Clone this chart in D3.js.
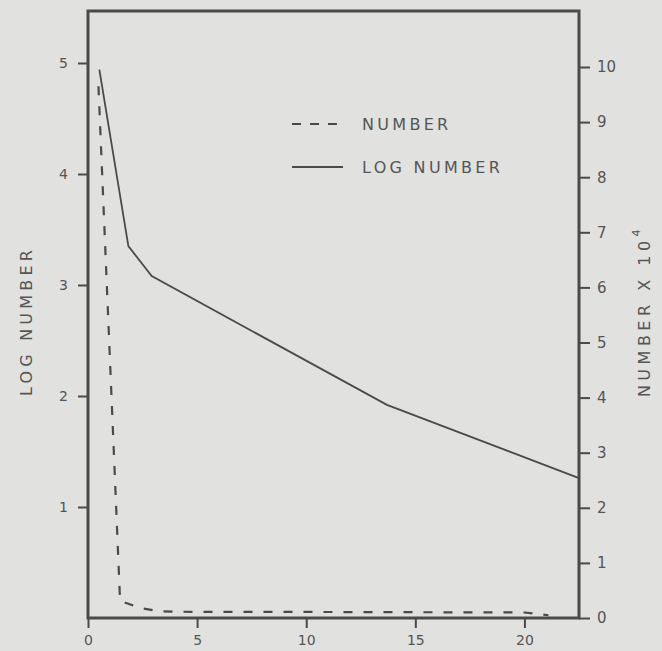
<!DOCTYPE html>
<html>
<head>
<meta charset="utf-8">
<script src="https://cdn.jsdelivr.net/npm/d3@7"></script>
<style>
  html, body { margin: 0; padding: 0; background: #e1e1df; }
  svg { display: block; }
  text { font-family: "DejaVu Sans", "Liberation Sans", sans-serif; fill: #555; }
</style>
</head>
<body>
<svg id="chart" width="662" height="651"></svg>
<script>
// ---- data ----
const logDays   = [0.52, 1.85, 2.92, 13.7, 22.5];
const logValues = [4.94, 3.35, 3.08, 1.92, 1.26];

const numDays   = [0.48, 1.47, 2.4, 3.3, 5, 10, 15, 20, 21.1];
const numValues = [9.65, 0.31, 0.18, 0.12, 0.11, 0.11, 0.105, 0.1, 0.05]; // x 10^4

const xTicks      = [0, 5, 10, 15, 20];
const leftTicks   = [1, 2, 3, 4, 5];
const rightTicks  = [0, 1, 2, 3, 4, 5, 6, 7, 8, 9, 10];
const legendNames = ["NUMBER", "LOG NUMBER"];

// ---- layout ----
const svg = d3.select("#chart");
const L = 88, R = 579, T = 11, B = 618;
const ink = "#4a4a4a";

const x  = d3.scaleLinear().domain([0, 22.5]).range([L, R]);
const yL = d3.scaleLinear().domain([0, 5]).range([B, 63]);
const yR = d3.scaleLinear().domain([0, 10]).range([B, 67]);

// frame
svg.append("rect")
  .attr("x", L).attr("y", T).attr("width", R - L).attr("height", B - T)
  .attr("fill", "none").attr("stroke", ink).attr("stroke-width", 3);

function styleAxis(g, size) {
  g.select(".domain").remove();
  g.selectAll(".tick line").attr("stroke", ink).attr("stroke-width", 2);
  g.selectAll(".tick text").style("font-size", size + "px").attr("fill", "#555");
}

// bottom axis
svg.append("g").attr("transform", `translate(0,${B})`)
  .call(d3.axisBottom(x).tickValues(xTicks).tickSize(10).tickPadding(7).tickFormat(d3.format("d")))
  .call(g => styleAxis(g, 14));

// left axis
svg.append("g").attr("transform", `translate(${L},0)`)
  .call(d3.axisLeft(yL).tickValues(leftTicks).tickSize(10).tickPadding(10).tickFormat(d3.format("d")))
  .call(g => styleAxis(g, 14));

// right axis
svg.append("g").attr("transform", `translate(${R},0)`)
  .call(d3.axisRight(yR).tickValues(rightTicks).tickSize(11).tickPadding(7).tickFormat(d3.format("d")))
  .call(g => styleAxis(g, 15));

// axis titles
svg.append("text")
  .attr("transform", `translate(32,321) rotate(-90)`)
  .attr("text-anchor", "middle")
  .style("font-size", "16px").style("letter-spacing", "4.2px")
  .text("LOG NUMBER");

const rt = svg.append("text")
  .attr("transform", `translate(650,311) rotate(-90)`)
  .attr("text-anchor", "middle")
  .style("font-size", "16px").style("letter-spacing", "4.5px");
rt.append("tspan").text("NUMBER X 10");
rt.append("tspan").attr("dy", -10).style("font-size", "11px").text("4");

// lines
const logData = logDays.map((d, i) => [d, logValues[i]]);
const numData = numDays.map((d, i) => [d, numValues[i]]);

svg.append("path")
  .datum(numData)
  .attr("fill", "none").attr("stroke", ink).attr("stroke-width", 2.2)
  .attr("stroke-dasharray", "9,11")
  .attr("d", d3.line().x(d => x(d[0])).y(d => yR(d[1])));

svg.append("path")
  .datum(logData)
  .attr("fill", "none").attr("stroke", ink).attr("stroke-width", 1.8)
  .attr("d", d3.line().x(d => x(d[0])).y(d => yL(d[1])));

// legend
const leg = svg.append("g");
legendNames.forEach((name, i) => {
  const yy = 124 + i * 43;
  leg.append("line")
    .attr("x1", 292).attr("x2", 343).attr("y1", yy).attr("y2", yy)
    .attr("stroke", ink).attr("stroke-width", 2)
    .attr("stroke-dasharray", i === 0 ? "9,9" : null);
  leg.append("text")
    .attr("x", 362).attr("y", yy + 6)
    .style("font-size", "16px").style("letter-spacing", "3.3px")
    .text(name);
});
</script>
</body>
</html>
